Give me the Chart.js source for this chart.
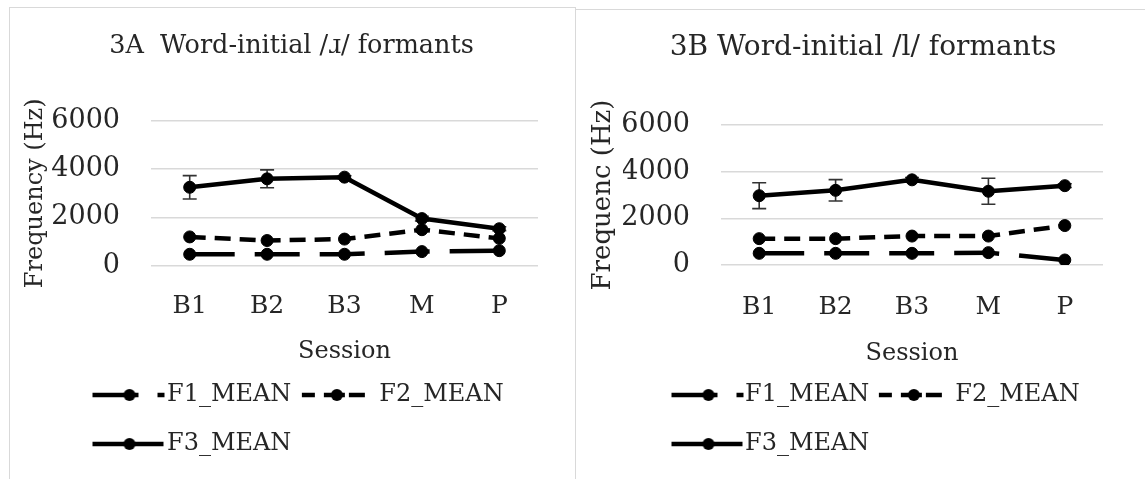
<!DOCTYPE html>
<html>
<head>
<meta charset="utf-8">
<script src="https://cdn.jsdelivr.net/npm/chart.js@4.4.1/dist/chart.umd.min.js"></script>
<style>
html,body{margin:0;padding:0;background:#fff;width:1145px;height:479px;overflow:hidden;}
.panel{position:absolute;border:1px solid #d9d9d9;box-sizing:border-box;background:#fff;}
#pA{left:9px;top:7px;width:567px;height:490px;}
#pB{left:575px;top:9px;width:600px;height:490px;}
canvas{position:absolute;left:0;top:0;}
</style>
</head>
<body>
<div class="panel" id="pA"><canvas id="cA" width="565" height="471"></canvas></div>
<div class="panel" id="pB"><canvas id="cB" width="569" height="469"></canvas></div>
<script>
// ---- data ----
const sessions = ['B1', 'B2', 'B3', 'M', 'P'];
const seriesNames = ['F1_MEAN', 'F2_MEAN', 'F3_MEAN'];
const yTicks = [0, 2000, 4000, 6000];

// 3A Word-initial /ɹ/
const a_F1 = [470, 470, 470, 580, 620];
const a_F2 = [1190, 1040, 1100, 1490, 1130];
const a_F3 = [3250, 3600, 3670, 1950, 1530];
const a_F3_err = [485, 370, 60, 100, 80];

// 3B Word-initial /l/
const b_F1 = [500, 500, 500, 530, 215];
const b_F2 = [1130, 1130, 1240, 1240, 1690];
const b_F3 = [2970, 3200, 3650, 3160, 3400];
const b_F3_err = [555, 460, 100, 555, 80];

const FONT = "'DejaVu Serif', 'Liberation Serif', serif";
const TXT = '#262626';
Chart.defaults.font.family = FONT;
Chart.defaults.color = TXT;

function legendIcon(kind) {
  const c = document.createElement('canvas');
  c.width = 90; c.height = 16;
  const g = c.getContext('2d');
  const cy = 8;
  let cx = 45;
  g.strokeStyle = '#000'; g.fillStyle = '#000'; g.lineWidth = 4.5;
  g.beginPath();
  if (kind === 0) {
    g.setLineDash([46, 19]);
    g.moveTo(cx - 37, cy); g.lineTo(cx + 35, cy);
  } else if (kind === 2) {
    g.moveTo(cx - 37, cy); g.lineTo(cx + 34, cy);
  } else {
    cx = 40;
    g.moveTo(cx - 35, cy); g.lineTo(cx - 22, cy);
    g.moveTo(cx - 13, cy); g.lineTo(cx + 8, cy);
    g.moveTo(cx + 12, cy); g.lineTo(cx + 28, cy);
  }
  g.stroke();
  g.setLineDash([]);
  g.beginPath(); g.arc(cx, cy, 6, 0, Math.PI * 2); g.fill();
  return c;
}

const errorBars = {
  id: 'errorBars',
  beforeDatasetsDraw(chart) {
    const ctx = chart.ctx, y = chart.scales.y;
    chart.data.datasets.forEach((ds, i) => {
      if (!ds.errors) return;
      const meta = chart.getDatasetMeta(i);
      meta.data.forEach((pt, j) => {
        const e = ds.errors[j];
        if (e == null) return;
        const v = ds.data[j];
        const yt = y.getPixelForValue(v + e), yb = y.getPixelForValue(v - e);
        ctx.save();
        ctx.strokeStyle = '#333'; ctx.lineWidth = 1.6;
        ctx.beginPath();
        ctx.moveTo(pt.x, yt); ctx.lineTo(pt.x, yb);
        ctx.moveTo(pt.x - 7, yt); ctx.lineTo(pt.x + 7, yt);
        ctx.moveTo(pt.x - 7, yb); ctx.lineTo(pt.x + 7, yb);
        ctx.stroke();
        ctx.restore();
      });
    });
  }
};

const legendPlace = {
  id: 'legendPlace',
  afterLayout(chart, args, opts) {
    const lg = chart.legend;
    if (!lg) return;
    const dx = opts.left - lg.left, dy = opts.top - lg.top;
    lg.left += dx; lg.right += dx; lg.top += dy; lg.bottom += dy;
  }
};

function makeChart(id, d, L) {
  const icons = [legendIcon(0), legendIcon(1), legendIcon(2)];
  const common = {
    borderColor: '#000', borderWidth: 4.5, pointRadius: 6, pointHoverRadius: 6,
    pointBackgroundColor: '#000', pointBorderColor: '#000', pointBorderWidth: 1,
    fill: false, tension: 0, borderJoinStyle: 'round'
  };
  return new Chart(document.getElementById(id), {
    type: 'line',
    data: {
      labels: sessions,
      datasets: [
        Object.assign({label: seriesNames[0], data: d.f1, borderDash: [45, 20]}, common),
        Object.assign({label: seriesNames[1], data: d.f2, borderDash: [16, 9]}, common),
        Object.assign({label: seriesNames[2], data: d.f3, errors: d.f3err}, common)
      ]
    },
    options: {
      responsive: false, animation: false, devicePixelRatio: 1,
      layout: {padding: {left: L.padL, right: L.padR, top: 0, bottom: L.padB}},
      scales: {
        x: {
          offset: true,
          grid: {display: false, drawTicks: false, offset: true},
          border: {display: false},
          ticks: {font: {size: 25}, padding: L.xTickPad, color: TXT},
          title: {display: true, text: 'Session', font: {size: 24}, color: TXT,
                  padding: {top: L.xTitlePad, bottom: 0}}
        },
        y: {
          min: 0, max: 6000,
          afterBuildTicks: s => { s.ticks = yTicks.map(v => ({value: v})); },
          afterFit: s => { s.width = L.yW; },
          grid: {color: '#d9d9d9', lineWidth: 1.5, drawTicks: false},
          border: {display: false},
          ticks: {font: {size: 27}, padding: L.yTickPad, color: TXT, callback: v => String(v)},
          title: {display: true, text: d.yTitle, font: {size: L.yTitleSize}, color: TXT,
                  padding: {top: L.yTitlePad, bottom: 0}}
        }
      },
      plugins: {
        title: {display: true, text: d.title, font: {size: L.titleSize, weight: 'normal'}, color: TXT,
                padding: {top: L.titlePadT, bottom: L.titlePadB}},
        legend: {
          position: 'bottom', align: 'start',
          labels: {
            usePointStyle: true, pointStyleWidth: L.box, boxWidth: L.box, padding: 25,
            font: {size: 24}, color: TXT,
            generateLabels: chart => chart.data.datasets.map((ds, i) => ({
              text: ds.label, pointStyle: icons[i], datasetIndex: i, hidden: false,
              fillStyle: 'rgba(0,0,0,0)', strokeStyle: 'rgba(0,0,0,0)', lineWidth: 0, fontColor: TXT
            }))
          }
        },
        tooltip: {enabled: false},
        legendPlace: {left: L.legL, top: L.legT}
      }
    },
    plugins: [errorBars, legendPlace]
  });
}

makeChart('cA', {
  title: '3A  Word-initial /\u0279/ formants', yTitle: 'Frequency (Hz)',
  f1: a_F1, f2: a_F2, f3: a_F3, f3err: a_F3_err
}, {padL: 35, padR: 37, padB: 4.6, yW: 106, yTickPad: 31, yTitleSize: 24, yTitlePad: -23.4,
    xTickPad: 25.4, xTitlePad: -8.8, titleSize: 25.5, titlePadT: 22.7, titlePadB: 59.7,
    box: 51, legL: 69, legT: 350});

makeChart('cB', {
  title: '3B Word-initial /l/ formants', yTitle: 'Frequenc (Hz)',
  f1: b_F1, f2: b_F2, f3: b_F3, f3err: b_F3_err
}, {padL: 47, padR: 42, padB: 2.6, yW: 98, yTickPad: 31, yTitleSize: 26, yTitlePad: -35.6,
    xTickPad: 27, xTitlePad: -9.4, titleSize: 28, titlePadT: 21.2, titlePadB: 60.2,
    box: 49, legL: 83, legT: 348});
</script>
</body>
</html>
